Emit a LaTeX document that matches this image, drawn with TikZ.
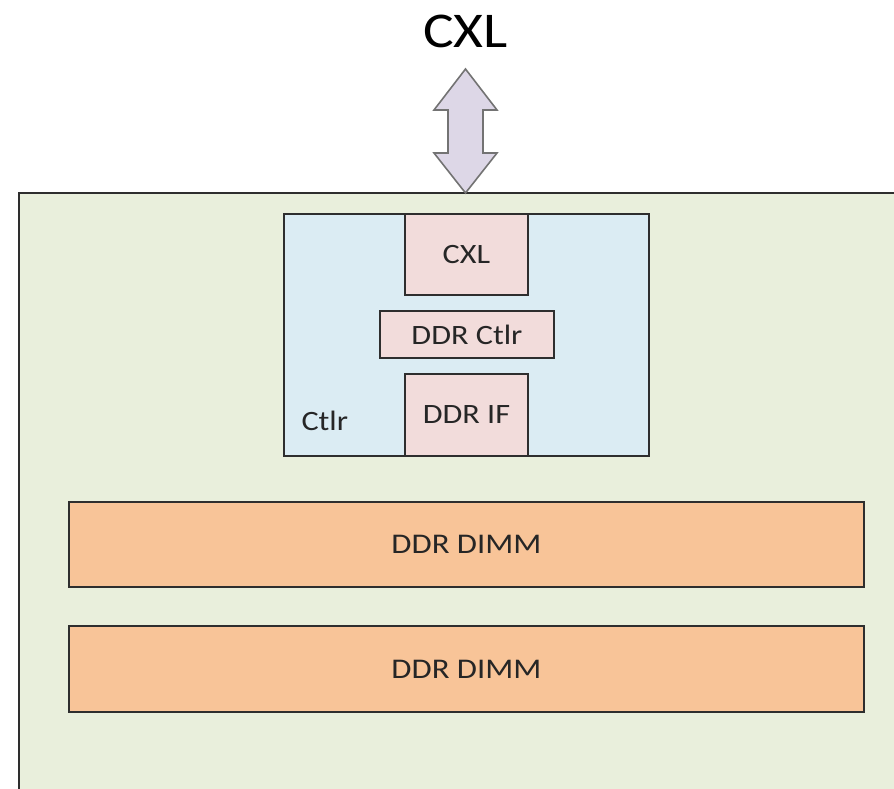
\documentclass[tikz,border=0pt]{standalone}
\usepackage{fontspec}
\setmainfont{Carlito}[FakeStretch=1.15]
\definecolor{boardfill}{HTML}{E9EFDC}
\definecolor{ctlrfill}{HTML}{DBECF3}
\definecolor{blockfill}{HTML}{F2DCDB}
\definecolor{dimmfill}{HTML}{F8C498}
\definecolor{arrowfill}{HTML}{DDD7E7}
\definecolor{edge}{HTML}{2E2E2E}
\tikzset{
  board/.style={draw=edge, line width=1.8pt, fill=boardfill},
  ctlrbox/.style={draw=edge, line width=1.9pt, fill=ctlrfill},
  block/.style={draw=edge, line width=1.9pt, fill=blockfill, inner sep=0pt,
    font=\fontsize{28}{30}\selectfont, text=black!85},
  dimm/.style={draw=edge, line width=1.9pt, fill=dimmfill, inner sep=0pt,
    font=\fontsize{28.5}{30}\selectfont, text=black!85},
  bus/.style={draw=black!55, line width=1.6pt, fill=arrowfill, line join=miter},
}
\begin{document}
\begin{tikzpicture}[x=1pt,y=-1pt]
  \useasboundingbox (0,0) rectangle (894,789);
  \begin{scope}
    \clip (0,0) rectangle (894,789);
    % memory board
    \path[board] (19,193) rectangle (905,800);
  \end{scope}
  % host link
  \node[font=\fontsize{50}{54}\selectfont, text=black] (title) at (465.5,31) {CXL};
  \coordinate (bustop) at (465.5,69);
  \coordinate (busbot) at (465.5,193);
  \path[bus] (bustop) -- (497,110) -- (483,110) -- (483,153) -- (497,153)
    -- (busbot) -- (434,153) -- (448,153) -- (448,110) -- (434,110) -- cycle;
  % controller
  \node[ctlrbox, anchor=north west, minimum width=365pt, minimum height=242pt,
    inner sep=0pt] (ctlr) at (283,213) {};
  \node[font=\fontsize{28}{30}\selectfont, text=black!85, anchor=base west]
    (ctlrlabel) at (298,430) {Ctlr};
  \node[block, anchor=north west, minimum width=123pt, minimum height=81pt]
    (cxl) at (404,213) {CXL};
  \node[block, anchor=north west, minimum width=174pt, minimum height=47pt]
    (ddrctlr) at (379,310) {DDR Ctlr};
  \node[block, anchor=north west, minimum width=123pt, minimum height=82pt]
    (ddrif) at (404,373) {DDR IF};
  % memory modules
  \node[dimm, anchor=north west, minimum width=795pt, minimum height=85pt]
    (dimma) at (68,501) {DDR DIMM};
  \node[dimm, anchor=north west, minimum width=795pt, minimum height=86pt]
    (dimmb) at (68,625) {DDR DIMM};
\end{tikzpicture}
\end{document}
